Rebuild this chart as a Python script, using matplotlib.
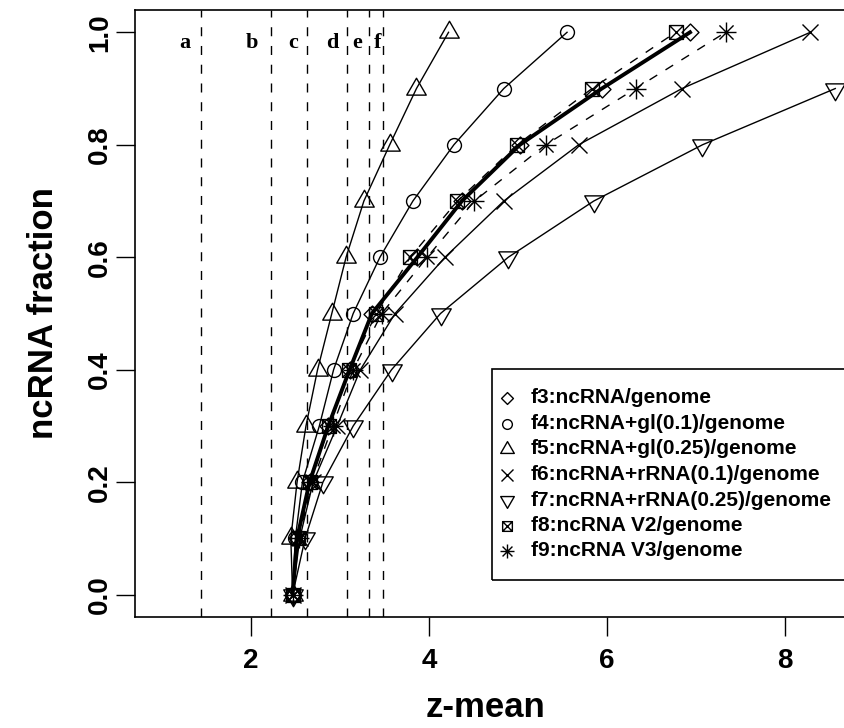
# %%
"""
ncRNA fraction versus z-mean for several genome-wide scoring schemes.
Vertical dashed lines mark the z-mean cut-offs a-f.
"""

import matplotlib.pyplot as plt
from matplotlib.path import Path
from matplotlib.lines import Line2D
from matplotlib.patches import Rectangle

plt.rcParams["font.family"] = ["Liberation Sans", "DejaVu Sans"]
plt.rcParams["font.weight"] = "bold"

frac = [0.0, 0.1, 0.2, 0.3, 0.4, 0.5, 0.6, 0.7, 0.8, 0.9, 1.0]

f3_z = [2.47, 2.52, 2.66, 2.87, 3.11, 3.36, 3.87, 4.37, 5.02, 5.94, 6.93]
f4_z = [2.47, 2.50, 2.58, 2.77, 2.93, 3.15, 3.45, 3.82, 4.28, 4.84, 5.55]
f5_z = [2.47, 2.45, 2.52, 2.62, 2.75, 2.91, 3.07, 3.27, 3.56, 3.86, 4.22]
f6_z = [2.47, 2.55, 2.70, 2.97, 3.23, 3.62, 4.18, 4.84, 5.68, 6.84, 8.28]
f7_z = [2.47, 2.61, 2.81, 3.15, 3.58, 4.13, 4.89, 5.85, 7.07, 8.56]
f8_z = [2.47, 2.53, 2.67, 2.88, 3.10, 3.41, 3.79, 4.32, 4.99, 5.83, 6.77]
f9_z = [2.47, 2.54, 2.69, 2.92, 3.15, 3.47, 3.98, 4.51, 5.31, 6.32, 7.33]

labels = [
    "f3:ncRNA/genome",
    "f4:ncRNA+gl(0.1)/genome",
    "f5:ncRNA+gl(0.25)/genome",
    "f6:ncRNA+rRNA(0.1)/genome",
    "f7:ncRNA+rRNA(0.25)/genome",
    "f8:ncRNA V2/genome",
    "f9:ncRNA V3/genome",
]

cut_names = ["a", "b", "c", "d", "e", "f"]
cut_z = [1.442, 2.222, 2.628, 3.081, 3.328, 3.485]
cut_label_z = [1.26, 2.015, 2.475, 2.92, 3.19, 3.42]

# %%
# R-style plotting symbols built as paths


def triangle(up=True):
    s = 1 if up else -1
    return Path([(0, s), (-0.866, -0.5 * s), (0.866, -0.5 * s), (0, s)], closed=True)


diamond = Path([(0, 1), (1, 0), (0, -1), (-1, 0), (0, 1)], closed=True)

boxed_x = Path(
    [(-1, -1), (1, -1), (1, 1), (-1, 1), (-1, -1), (-1, -1), (1, 1), (-1, 1), (1, -1)],
    [Path.MOVETO, Path.LINETO, Path.LINETO, Path.LINETO, Path.CLOSEPOLY,
     Path.MOVETO, Path.LINETO, Path.MOVETO, Path.LINETO],
)

asterisk = Path(
    [(-1, 0), (1, 0), (0, -1), (0, 1),
     (-0.707, -0.707), (0.707, 0.707), (-0.707, 0.707), (0.707, -0.707)],
    [Path.MOVETO, Path.LINETO] * 4,
)

# (z values, marker, marker size, line width, dashed)
series = [
    (f3_z, diamond, 12.2, 2.8, False),
    (f4_z, "o", 10.0, 1.0, False),
    (f5_z, triangle(True), 16.2, 1.0, False),
    (f6_z, "x", 12.2, 1.0, False),
    (f7_z, triangle(False), 16.2, 1.0, False),
    (f8_z, boxed_x, 10.0, 1.0, True),
    (f9_z, asterisk, 14.4, 1.0, True),
]

# %%
W, H = 845, 728
fig = plt.figure(figsize=(W / 100, H / 100), dpi=100)
ax = fig.add_axes([134.7 / W, 110.8 / H, 727.3 / W, 607.4 / H])

for cut in cut_z:
    ax.axvline(cut, color="black", linewidth=1.0, dashes=(6.5, 7), zorder=1)

for name, xpos in zip(cut_names, cut_label_z):
    ax.text(xpos, 0.981, name, family="Liberation Serif", fontweight="bold",
            fontsize=16, ha="center", va="center")

for z, marker, ms, lw, dashed in series:
    style = dict(color="black", marker=marker, markersize=ms, markerfacecolor="none",
                 markeredgecolor="black", markeredgewidth=1.0, linewidth=lw)
    if dashed:
        style["dashes"] = (6.5, 7)
    ax.plot(z, frac[:len(z)], zorder=3, **style)

ax.set_xlim(0.698, 8.86)
ax.set_ylim(-0.04, 1.04)
ax.set_xticks([2, 4, 6, 8])
ax.set_yticks([0.0, 0.2, 0.4, 0.6, 0.8, 1.0])
ax.set_yticklabels(["0.0", "0.2", "0.4", "0.6", "0.8", "1.0"], rotation=90, va="center")
ax.tick_params(direction="out", length=14, width=1.0, labelsize=20)
ax.tick_params(axis="x", pad=8)
ax.tick_params(axis="y", pad=1.5)
for spine in ax.spines.values():
    spine.set_linewidth(1.2)

ax.set_xlabel("z-mean", fontsize=25, fontweight="bold", va="center")
ax.set_ylabel("ncRNA fraction", fontsize=25, fontweight="bold", va="center")
ax.xaxis.set_label_coords(0.483, -0.148)
ax.yaxis.set_label_coords(-0.126, 0.5)

# legend box: symbols only, no line samples; right edge runs off the figure
box_left, box_top, box_bottom = 491.7, 369.3, 580.0
fig.add_artist(Rectangle((box_left / W, 1 - box_bottom / H), (900 - box_left) / W,
                         (box_bottom - box_top) / H, transform=fig.transFigure,
                         fill=False, edgecolor="black", linewidth=1.2, clip_on=False))
for i, ((z, marker, ms, lw, dashed), label) in enumerate(zip(series, labels)):
    row_y = 1 - (398 + 25.5 * i) / H
    fig.add_artist(Line2D([507 / W], [row_y], transform=fig.transFigure,
                          linestyle="none", marker=marker, markersize=ms * 0.7,
                          markerfacecolor="none", markeredgecolor="black",
                          markeredgewidth=1.0))
    fig.text(531 / W, row_y, label, fontsize=15, fontweight="bold",
             ha="left", va="center")

fig.savefig("out.png", dpi=100)
